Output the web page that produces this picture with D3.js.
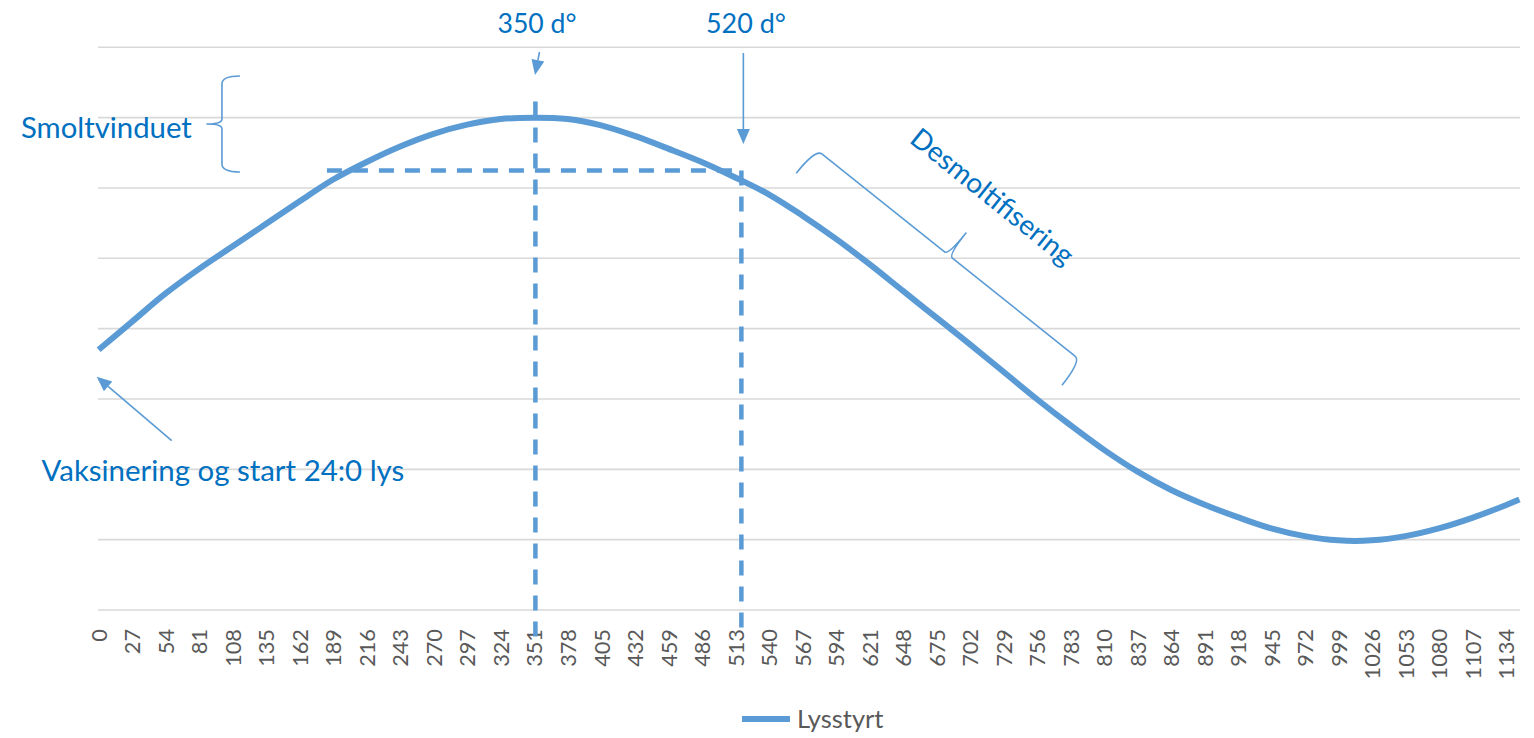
<!DOCTYPE html>
<html><head><meta charset="utf-8">
<script src="https://cdn.jsdelivr.net/npm/d3@7"></script>
<style>
html,body{margin:0;padding:0;background:#fff;}
svg{display:block;}
text{font-family:Lato,'Open Sans',sans-serif;}
</style>
</head><body>
<svg id="chart" width="1534" height="738"></svg>
<script>
// ---------- data ----------
const categories = [0,27,54,81,108,135,162,189,216,243,270,297,324,351,378,405,432,459,486,513,540,567,594,621,648,675,702,729,756,783,810,837,864,891,918,945,972,999,1026,1053,1080,1107,1134,1145];
const lysstyrt   = [3.70,4.10,4.50,4.85,5.17,5.49,5.81,6.12,6.37,6.59,6.77,6.90,6.98,7.00,6.98,6.89,6.74,6.56,6.37,6.15,5.91,5.61,5.28,4.92,4.54,4.16,3.78,3.39,3.00,2.63,2.28,1.97,1.71,1.50,1.32,1.16,1.05,0.99,0.99,1.05,1.16,1.31,1.49,1.57];
const xTickLabels = [0,27,54,81,108,135,162,189,216,243,270,297,324,351,378,405,432,459,486,513,540,567,594,621,648,675,702,729,756,783,810,837,864,891,918,945,972,999,1026,1053,1080,1107,1134];
const gridValues = [0,1,2,3,4,5,6,7,8];
const seriesName = "Lysstyrt";
const categoryCount = 1146;
// annotation anchors in data units [category, value]
const markerPeak = {c:352, v0:-0.5, v1:7.23, label:"350 d°"};
const markerEnd  = {c:518, v0:-0.4, v1:6.25, label:"520 d°"};
const windowLine = {c0:184, c1:518, v:6.25};

// ---------- layout ----------
const svg = d3.select("#chart");
const plot = {left:98, right:1520, top:47.3, bottom:610};
const x = d3.scaleLinear().domain([-0.5, categoryCount-0.5]).range([plot.left, plot.right]);
const y = d3.scaleLinear().domain([0, 8]).range([plot.bottom, plot.top]);
const BLUE = "#5B9BD5", TXT = "#0070C0", GREY = "#595959", GRID = "#D9D9D9";

// gridlines
svg.append("g").selectAll("line").data(gridValues).join("line")
  .attr("x1", plot.left).attr("x2", plot.right)
  .attr("y1", d => y(d)).attr("y2", d => y(d))
  .attr("stroke", GRID).attr("stroke-width", 1.6);

// x axis labels
const xAxis = d3.axisBottom(x).tickValues(xTickLabels).tickSize(0).tickSizeOuter(0).tickFormat(d => d);
const gx = svg.append("g").attr("transform", `translate(0,${plot.bottom})`).call(xAxis);
gx.select(".domain").remove();
const tl = gx.selectAll("text")
  .attr("y", 0).attr("x", -19).attr("dy", "0.36em")
  .attr("transform", "rotate(-90)")
  .attr("text-anchor", "end")
  .attr("fill", GREY)
  .style("font-family", "Lato,'Open Sans',sans-serif");
tl.style("font-size", "22px");
const lastNode = tl.filter(d => d === 1134).node();
const lblLen = lastNode.getComputedTextLength();
tl.style("font-size", (22 * 50.5 / lblLen) + "px");

// series line
const line = d3.line().x((d,i) => x(categories[i])).y(d => y(d)).curve(d3.curveCatmullRom.alpha(0.5));
svg.append("path").datum(lysstyrt)
  .attr("d", line).attr("fill", "none")
  .attr("stroke", BLUE).attr("stroke-width", 6).attr("stroke-linejoin", "round");

// dashed guide lines
const dash = "15,11";
svg.append("line")
  .attr("x1", x(markerPeak.c)).attr("x2", x(markerPeak.c))
  .attr("y1", y(markerPeak.v1)).attr("y2", y(markerPeak.v0))
  .attr("stroke", BLUE).attr("stroke-width", 4.5).attr("stroke-dasharray", dash);
svg.append("line")
  .attr("x1", x(markerEnd.c)).attr("x2", x(markerEnd.c))
  .attr("y1", y(markerEnd.v1)).attr("y2", y(markerEnd.v0))
  .attr("stroke", BLUE).attr("stroke-width", 4.5).attr("stroke-dasharray", dash);
svg.append("line")
  .attr("x1", x(windowLine.c0)).attr("x2", x(windowLine.c1))
  .attr("y1", y(windowLine.v)).attr("y2", y(windowLine.v))
  .attr("stroke", BLUE).attr("stroke-width", 4.5).attr("stroke-dasharray", dash);

// arrows
function arrow(c1, v1, c2, v2) {
  const x1 = x(c1), y1 = y(v1), x2 = x(c2), y2 = y(v2);
  const L = Math.hypot(x2-x1, y2-y1), ux = (x2-x1)/L, uy = (y2-y1)/L;
  const hl = 15, hw = 6.5;
  const bx = x2 - ux*hl, by = y2 - uy*hl;
  svg.append("line").attr("x1", x1).attr("y1", y1).attr("x2", bx).attr("y2", by)
    .attr("stroke", BLUE).attr("stroke-width", 1.6);
  svg.append("path")
    .attr("d", `M${x2},${y2}L${bx - uy*hw},${by + ux*hw}L${bx + uy*hw},${by - ux*hw}Z`)
    .attr("fill", BLUE);
}
arrow(355.3, 7.933, 351.7, 7.606);
arrow(519.6, 7.919, 519.6, 6.625);
arrow(58.9, 2.407, -1.55, 3.317);

// curly braces
function brace(c, v, angle, h, k, tip) {
  const r = 8;
  const p = `M${-h},${-k} Q${-h},0 ${-h+r},0 L${-5},0 Q0,0 0,${tip} Q0,0 5,0 L${h-r},0 Q${h},0 ${h},${-k}`;
  svg.append("path")
    .attr("transform", `translate(${x(c)},${y(v)}) rotate(${angle}) scale(1,-1)`)
    .attr("d", p).attr("fill", "none").attr("stroke", BLUE).attr("stroke-width", 1.6)
    .attr("stroke-linejoin", "round");
}
brace(99.4, 6.909, -90, 48, 18, 15);
brace(684.9, 5.047, 38.6, 170, 31, 28);

// annotation texts
function label(txt, c, v, anchor, target, rot) {
  const t = svg.append("text").text(txt)
    .attr("fill", TXT).attr("text-anchor", anchor)
    .style("font-size", "30px");
  if (rot) t.attr("transform", `translate(${x(c)},${y(v)}) rotate(${rot})`);
  else t.attr("x", x(c)).attr("y", y(v));
  const L = t.node().getComputedTextLength();
  t.style("font-size", (30 * target / L) + "px");
}
label(markerPeak.label, 353.3, 8.203, "middle", 79);
label(markerEnd.label, 521.7, 8.203, "middle", 80);
label("Smoltvinduet", -62.6, 6.710, "start", 171);
label("Vaksinering og start 24:0 lys", -46.0, 1.834, "start", 363);
label("Desmoltifisering", 652.5, 6.658, "start", 200, 38.7);

// legend
const lg = svg.append("g");
lg.append("line").attr("x1", 742).attr("x2", 790).attr("y1", 719).attr("y2", 719)
  .attr("stroke", BLUE).attr("stroke-width", 6);
const lt = lg.append("text").text(seriesName).attr("x", 797).attr("y", 728)
  .attr("fill", GREY).style("font-size", "26px");
const ll = lt.node().getComputedTextLength();
lt.style("font-size", (26 * 86.5 / ll) + "px");
</script>
</body></html>
